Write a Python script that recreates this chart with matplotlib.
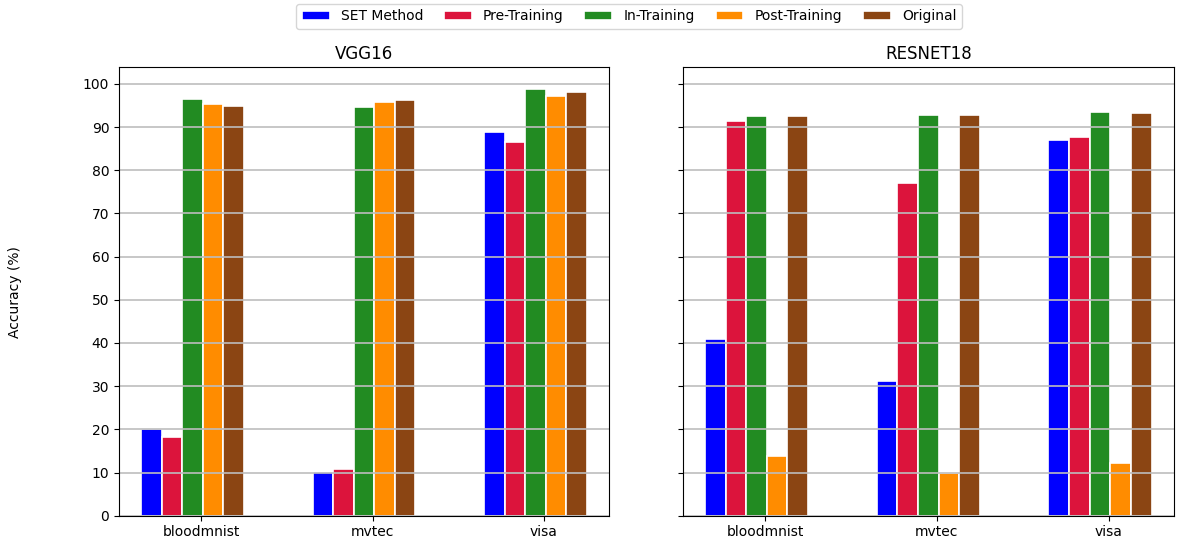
import numpy as np
import matplotlib.pyplot as plt

# данные
datasets = ['bloodmnist', 'mvtec', 'visa']
methods = ['SET Method', 'Pre-Training', 'In-Training', 'Post-Training', 'Original']
colors = ['blue', 'crimson', 'forestgreen', 'darkorange', 'saddlebrown']

vgg16 = {
    'SET Method':    [20.0, 10.1, 88.9],
    'Pre-Training':  [18.2, 10.9, 86.6],
    'In-Training':   [96.5, 94.7, 98.9],
    'Post-Training': [95.3, 95.9, 97.2],
    'Original':      [94.8, 96.3, 98.2],
}
resnet18 = {
    'SET Method':    [40.9, 31.1, 87.1],
    'Pre-Training':  [91.5, 77.0, 87.8],
    'In-Training':   [92.6, 92.9, 93.5],
    'Post-Training': [13.9, 10.0, 12.2],
    'Original':      [92.5, 92.8, 93.2],
}

width = 0.12
x = np.arange(len(datasets))

fig = plt.figure(figsize=(11.78, 5.4), dpi=100)
ax1 = fig.add_axes([0.101, 0.045, 0.416, 0.8304])
ax2 = fig.add_axes([0.5795, 0.045, 0.417, 0.8304], sharey=ax1)

def draw(ax, data, title):
    for i, m in enumerate(methods):
        ax.bar(x + (i - 2) * width - 0.05, data[m], width, color=colors[i],
               edgecolor='white', linewidth=1.2, label=m)
    ax.set_xticks(x)
    ax.set_xticklabels(datasets)
    ax.set_yticks(np.arange(0, 101, 10))
    ax.set_title(title, fontsize=12)
    ax.grid(axis='y', color='#bdbdbd', linewidth=1.2)

draw(ax1, vgg16, 'VGG16')
draw(ax2, resnet18, 'RESNET18')
ax2.tick_params(labelleft=False)

handles, labels = ax1.get_legend_handles_labels()
fig.legend(handles, labels, loc='upper center', bbox_to_anchor=(0.534, 0.993),
           ncol=5, borderaxespad=0, columnspacing=1.5)
fig.text(0.013, 0.46, 'Accuracy (%)', rotation=90, va='center', ha='center')

plt.savefig('out.png', dpi=100)
